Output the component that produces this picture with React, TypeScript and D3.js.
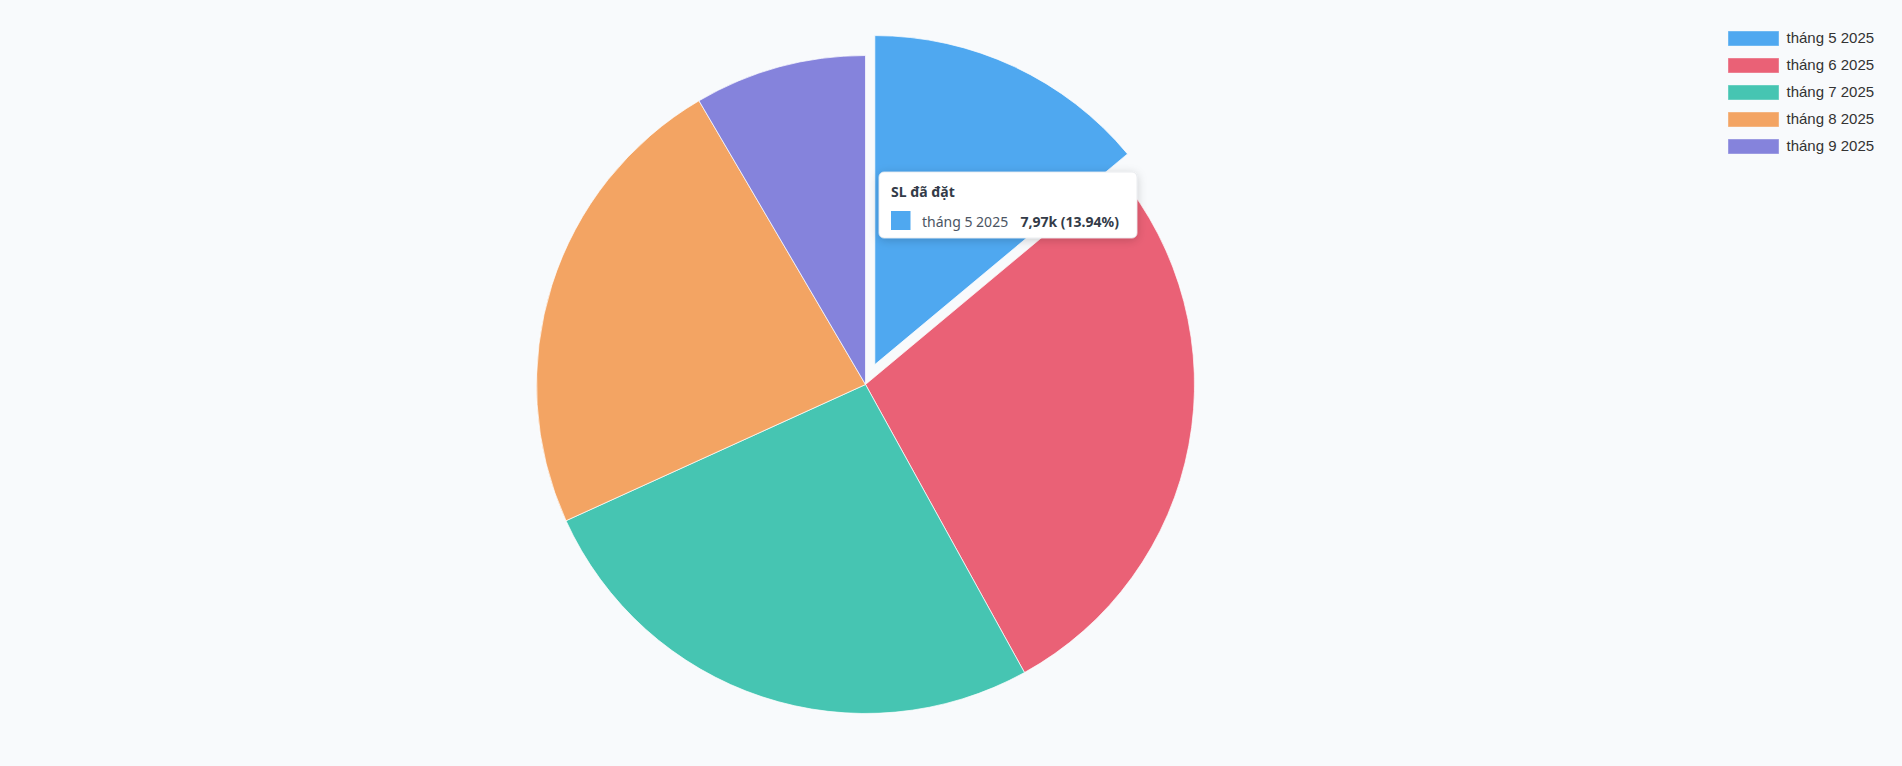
import React from 'react';
import * as d3 from 'd3';

const labels = ['tháng 5 2025', 'tháng 6 2025', 'tháng 7 2025', 'tháng 8 2025', 'tháng 9 2025'];
const values = [7970, 16030, 15000, 13350, 4830];
const colors = ['#4FA8F0', '#EA6176', '#46C5B2', '#F3A463', '#8583DC'];
const seriesName = 'SL đã đặt';
const activeIndex = 0;

const W = 1902;
const H = 766;

export default function App() {
  const cx = 865.5;
  const cy = 384.5;
  const r = 329;
  const hoverOffset = 22;

  const pie = d3.pie<number>().sort(null).value((d) => d)(values);
  const arc = d3.arc<d3.PieArcDatum<number>>().innerRadius(0).outerRadius(r);
  const total = d3.sum(values);

  const fmtVal = (v: number) => (v / 1000).toFixed(2).replace('.', ',') + 'k';
  const pct = (v: number) => ((v / total) * 100).toFixed(2) + '%';

  const legendX = 1728;
  const legendY = 31;
  const legendStep = 27;

  const tipX = 879;
  const tipY = 172;

  return (
    <svg
      width={W}
      height={H}
      style={{ position: 'absolute', left: 0, top: 0, display: 'block', background: '#F8FAFC' }}
    >
      <defs>
        <filter id="tipShadow" x="-20%" y="-40%" width="140%" height="180%">
          <feDropShadow dx="0" dy="2" stdDeviation="5" floodColor="#000" floodOpacity="0.18" />
        </filter>
      </defs>
      <rect x={0} y={0} width={W} height={H} fill="#F8FAFC" />
      <g transform={`translate(${cx},${cy})`}>
        {pie.map((p, i) => {
          let dx = 0;
          let dy = 0;
          if (i === activeIndex) {
            const mid = (p.startAngle + p.endAngle) / 2;
            dx = Math.sin(mid) * hoverOffset;
            dy = -Math.cos(mid) * hoverOffset;
          }
          return (
            <path
              key={i}
              d={arc(p) || ''}
              transform={`translate(${dx},${dy})`}
              fill={colors[i]}
              stroke="#ffffff"
              strokeOpacity={0.7}
              strokeWidth={1}
            />
          );
        })}
      </g>

      <g fontFamily="'Liberation Sans', Arial, sans-serif" fontSize={15} fill="#333">
        {labels.map((l, i) => (
          <g key={i} transform={`translate(${legendX},${legendY + i * legendStep})`}>
            <rect x={0.5} y={0.5} width={50} height={14} fill={colors[i]} stroke={colors[i]} strokeOpacity={0.6} />
            <text x={58.5} y={12} fill="#333">{l}</text>
          </g>
        ))}
      </g>

      <g transform={`translate(${tipX},${tipY})`} fontFamily="'Noto Sans', 'Open Sans', sans-serif">
        <rect x={0} y={0} width={258} height={66} rx={5} fill="#fff" stroke="#E5E7EB" strokeWidth={0.8} filter="url(#tipShadow)" />
        <text x={12} y={25} fontSize={14} fontWeight={700} fill="#333B48">{seriesName}</text>
        <rect x={12} y={39} width={19.5} height={19} fill={colors[activeIndex]} />
        <text x={43} y={55} fontSize={14} fill="#4B5563">{labels[activeIndex]}</text>
        <text x={141.5} y={55} fontSize={14} fontWeight={700} fill="#333B48">
          {`${fmtVal(values[activeIndex])} (${pct(values[activeIndex])})`}
        </text>
      </g>
    </svg>
  );
}
